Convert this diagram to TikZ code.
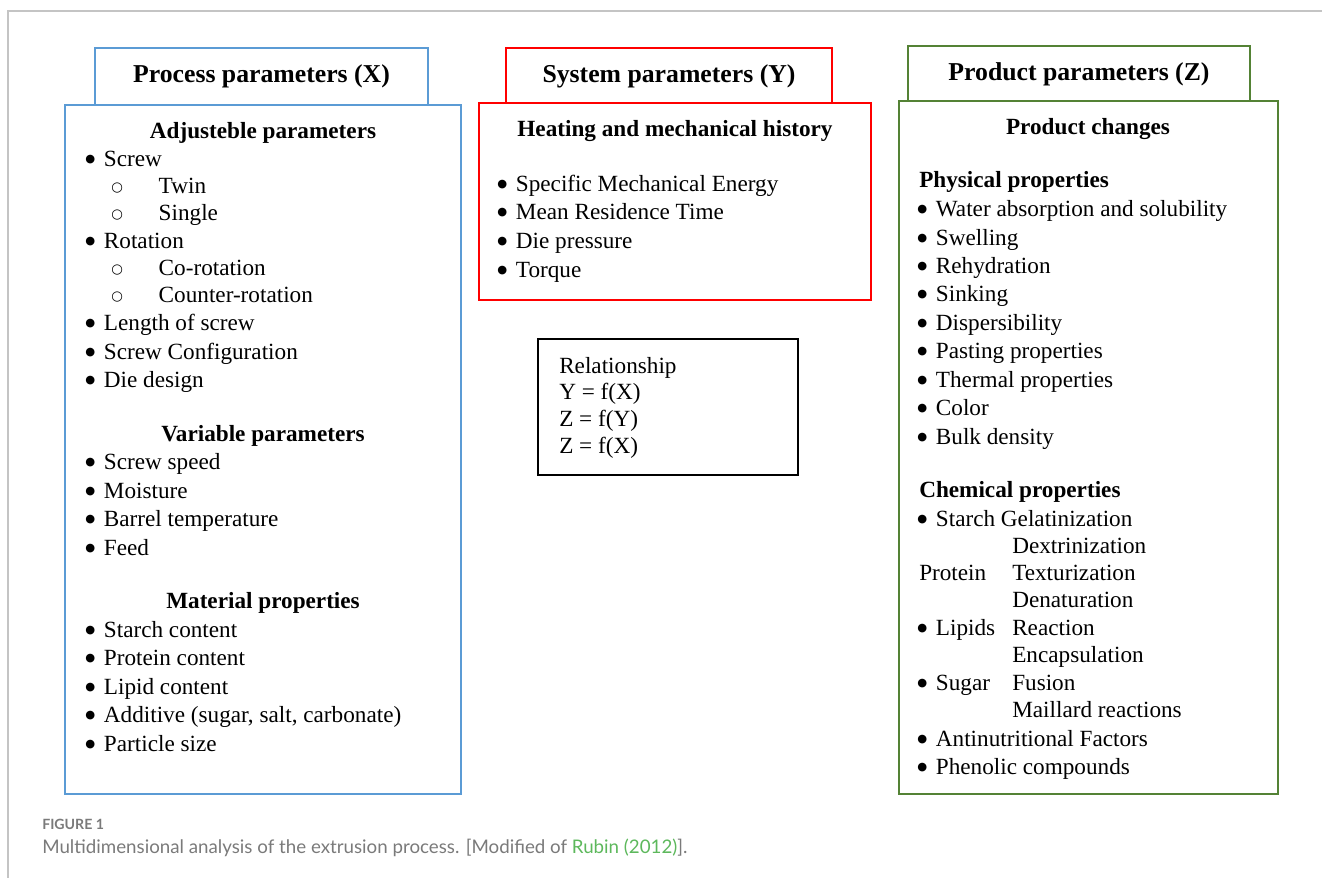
\documentclass[tikz,border=0pt]{standalone}
\usepackage{fontspec}
\setmainfont{Liberation Serif}
\newfontfamily\bulfont{DejaVu Sans}
\newfontfamily\capfont{Lato}
\usepackage[dvipsnames]{xcolor}
\usepackage{tikz}

\definecolor{procblue}{HTML}{5B9BD5}
\definecolor{sysred}{HTML}{FF0000}
\definecolor{prodgreen}{HTML}{548235}
\definecolor{framegray}{HTML}{C4C4C4}
\definecolor{capgray}{HTML}{7A7A7A}
\definecolor{capgreen}{HTML}{5DB85C}

\newcommand{\bodysize}{\fontsize{17.4}{20}\selectfont}
\newcommand{\titlesize}{\fontsize{19.3}{22}\selectfont}
\newcommand{\itembul}{\makebox[14pt][l]{\raisebox{2.6pt}{\bulfont\fontsize{8.5}{8.5}\selectfont ●}}}
\newcommand{\subbul}{\makebox[35.6pt][l]{\raisebox{0.9pt}{\bulfont\fontsize{10}{10}\selectfont ○}}}

\tikzset{
  boxline/.style={line width=1.4pt},
  title/.style={anchor=base, inner sep=0pt, font=\titlesize\bfseries},
  subhead/.style={anchor=base, inner sep=0pt, font=\bodysize\bfseries},
  subheadl/.style={anchor=base west, inner sep=0pt, font=\bodysize\bfseries},
  item/.style={anchor=base west, inner sep=0pt, font=\bodysize},
}

\begin{document}
\begin{tikzpicture}[x=0.75pt,y=-0.75pt]

\useasboundingbox (0,0) rectangle (1322,878);

% frame of the figure
\draw [color=framegray, line width=1pt] (7,11) -- (1322,11);
\draw [color=framegray, line width=1pt] (8,11) -- (8,878);

% boxes
\draw [boxline, color=procblue] (95,48) rectangle (428,105);
\draw [boxline, color=procblue] (65,105) rectangle (461,794);
\draw [boxline, color=sysred] (506,48) rectangle (832,103);
\draw [boxline, color=sysred] (479,103) rectangle (871,300);
\draw [boxline, color=prodgreen] (908,46) rectangle (1250,101);
\draw [boxline, color=prodgreen] (899,101) rectangle (1278,794);
\draw [boxline, color=black] (538,339) rectangle (798,475);

% titles
\node [title] (procTitle) at (261.5,82) {Process parameters (X)};
\node [title] (sysTitle) at (669,82) {System parameters (Y)};
\node [title] (prodTitle) at (1079,80) {Product parameters (Z)};

% process parameters (X)
\node [subhead] (pAdj) at (263,138) {Adjusteble parameters};
\node [item] (pScrew) at (85,166) {\itembul Screw};
\node [item] (pTwin) at (111,193) {\subbul Twin};
\node [item] (pSingle) at (111,220) {\subbul Single};
\node [item] (pRot) at (85,248) {\itembul Rotation};
\node [item] (pCoRot) at (111,275) {\subbul Co-rotation};
\node [item] (pCounter) at (111,302) {\subbul Counter-rotation};
\node [item] (pLength) at (85,330) {\itembul Length of screw};
\node [item] (pConfig) at (85,359) {\itembul Screw Configuration};
\node [item] (pDie) at (85,387) {\itembul Die design};

\node [subhead] (pVar) at (263,441) {Variable parameters};
\node [item] (pSpeed) at (85,469) {\itembul Screw speed};
\node [item] (pMoist) at (85,498) {\itembul Moisture};
\node [item] (pBarrel) at (85,526) {\itembul Barrel temperature};
\node [item] (pFeed) at (85,555) {\itembul Feed};

\node [subhead] (pMat) at (263,608) {Material properties};
\node [item] (pStarch) at (85,637) {\itembul Starch content};
\node [item] (pProt) at (85,665) {\itembul Protein content};
\node [item] (pLipid) at (85,694) {\itembul Lipid content};
\node [item] (pAdd) at (85,722) {\itembul Additive (sugar, salt, carbonate)};
\node [item] (pPart) at (85,751) {\itembul Particle size};

% system parameters (Y)
\node [subhead] (sHeat) at (675,136) {Heating and mechanical history};
\node [item] (sSME) at (497,191) {\itembul Specific Mechanical Energy};
\node [item] (sMRT) at (497,219) {\itembul Mean Residence Time};
\node [item] (sDie) at (497,248) {\itembul Die pressure};
\node [item] (sTorque) at (497,277) {\itembul Torque};

% relationship
\node [item] (rHead) at (559,373) {Relationship};
\node [item] (rYX) at (559,399) {Y = f(X)};
\node [item] (rZY) at (559,426) {Z = f(Y)};
\node [item] (rZX) at (559,453) {Z = f(X)};

% product parameters (Z)
\node [subhead] (zChg) at (1088,134) {Product changes};
\node [subheadl] (zPhys) at (919,187) {Physical properties};
\node [item] (zWater) at (917,216) {\itembul Water absorption and solubility};
\node [item] (zSwell) at (917,245) {\itembul Swelling};
\node [item] (zRehyd) at (917,273) {\itembul Rehydration};
\node [item] (zSink) at (917,301) {\itembul Sinking};
\node [item] (zDisp) at (917,330) {\itembul Dispersibility};
\node [item] (zPast) at (917,358) {\itembul Pasting properties};
\node [item] (zTherm) at (917,387) {\itembul Thermal properties};
\node [item] (zColor) at (917,415) {\itembul Color};
\node [item] (zBulk) at (917,444) {\itembul Bulk density};

\node [subheadl] (zChem) at (919,497) {Chemical properties};
\node [item] (zStarch) at (917,526) {\itembul Starch Gelatinization};
\node [item] (zDextr) at (1012,553) {Dextrinization};
\node [item] (zProt) at (919,580) {Protein};
\node [item] (zText) at (1012,580) {Texturization};
\node [item] (zDenat) at (1012,607) {Denaturation};
\node [item] (zLipid) at (917,635) {\itembul Lipids};
\node [item] (zReact) at (1012,635) {Reaction};
\node [item] (zEncap) at (1012,662) {Encapsulation};
\node [item] (zSugar) at (917,690) {\itembul Sugar};
\node [item] (zFusion) at (1012,690) {Fusion};
\node [item] (zMaill) at (1012,717) {Maillard reactions};
\node [item] (zAnti) at (917,746) {\itembul Antinutritional Factors};
\node [item] (zPhen) at (917,774) {\itembul Phenolic compounds};

% caption
\node [anchor=base west, inner sep=0pt, font=\capfont\fontsize{10.6}{12}\selectfont\bfseries, text=capgray] (capFig) at (42,829) {FIGURE 1};
\node [anchor=base west, inner sep=0pt, font=\capfont\fontsize{14.05}{17}\selectfont, text=capgray] (capText) at (42,853) {Multidimensional analysis of the extrusion process. [Modified of \textcolor{capgreen}{Rubin (2012)}].};

\end{tikzpicture}
\end{document}
